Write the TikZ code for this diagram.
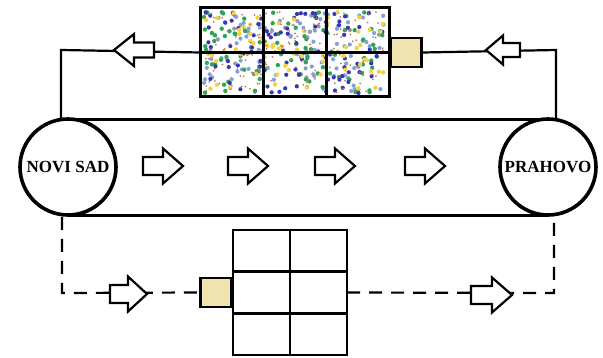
\documentclass[tikz,border=0pt]{standalone}
\usepackage{fontspec}
\setmainfont{Liberation Serif}
\usetikzlibrary{calc}
\definecolor{boxyellow}{RGB}{239,228,176}
\definecolor{dotblue}{RGB}{55,55,175}
\definecolor{dotgreen}{RGB}{45,165,85}
\definecolor{dotyellow}{RGB}{242,210,70}
\definecolor{dotlight}{RGB}{135,160,212}
\definecolor{dotbrown}{RGB}{185,120,100}
\tikzset{
  conn/.style={line width=2.2pt},
  dconn/.style={line width=2.2pt, dash pattern=on 13pt off 9pt},
  arrline/.style={line width=2.2pt, line join=miter, fill=white},
  panel/.style={outer sep=0pt, minimum width=189pt, minimum height=89pt, inner sep=0pt},
  gridline/.style={line width=2.6pt},
  lowgrid/.style={draw, line width=2.6pt, outer sep=0pt, fill=white, minimum width=114pt, minimum height=125pt, inner sep=0pt},
  ybox/.style={draw, line width=2.6pt, fill=boxyellow, minimum width=31pt, minimum height=29pt, inner sep=0pt},
  city/.style={circle, draw, line width=3.6pt, fill=white, minimum size=96pt, inner sep=0pt, font=\bfseries\fontsize{17}{20}\selectfont},
  pics/blockarr/.style n args={4}{code={
    \draw[arrline] (0,-#3) -- (#1-#2,-#3) -- (#1-#2,-#4) -- (#1,0) -- (#1-#2,#4) -- (#1-#2,#3) -- (0,#3) -- cycle;
  }}
}
\begin{document}
\begin{tikzpicture}[x=1pt,y=-1pt]
\useasboundingbox (0,0) rectangle (603,358);
% top panel with speckles
\node[panel] (toppanel) at (294.5,52.5) {};
\pgfmathsetseed{11}
\foreach \col/\n/\r in {dotlight/115/2.1, dotgreen/95/2.2, dotblue/90/2.1, dotyellow/65/2.2, dotbrown/150/1.0}{
  \foreach \i in {1,...,\n}{
    \pgfmathsetmacro\px{204+181*rnd}
    \pgfmathsetmacro\py{12+81*rnd}
    \fill[\col] (\px,\py) circle (\r);
  }
}
\draw[line width=3pt] (toppanel.north west) rectangle (toppanel.south east);
\draw[line width=3pt] ($(toppanel.north west)!1/3!(toppanel.north east)$) -- ($(toppanel.south west)!1/3!(toppanel.south east)$);
\draw[line width=3pt] ($(toppanel.north west)!2/3!(toppanel.north east)$) -- ($(toppanel.south west)!2/3!(toppanel.south east)$);
\draw[line width=3pt] (toppanel.west) -- (toppanel.east);
\node[ybox, anchor=west] (ybox1) at (toppanel.east) {};
% belt
\coordinate (nsc) at (68,167);
\coordinate (prc) at (548,167);
\draw[conn] (68,119.5) -- (548,119.5);
\draw[conn] (68,215.5) -- (548,215.5);
% top connectors
\coordinate (tl) at (61,50);
\coordinate (tr) at (556,50);
\draw[conn] (toppanel.west) -- (tl) -- (61,125);
\draw[conn] (ybox1.east) -- (tr) -- (556,125);
% cities
\node[city] (ns) at (nsc) {NOVI SAD};
\node[city] (pr) at (prc) {PRAHOVO};
% lower part
\node[lowgrid] (grid) at (290,292.5) {};
\draw[gridline] (grid.north) -- (grid.south);
\draw[gridline] ($(grid.north west)!1/3!(grid.south west)$) -- ($(grid.north east)!1/3!(grid.south east)$);
\draw[gridline] ($(grid.north west)!2/3!(grid.south west)$) -- ($(grid.north east)!2/3!(grid.south east)$);
\node[ybox, anchor=east] (ybox2) at (grid.west) {};
\coordinate (bl) at (62,293);
\coordinate (br) at (554,293);
\draw[dconn] (ns.south -| bl) -- (bl) -- (ybox2.west);
\draw[dconn] (grid.east) -- (br) -- (pr.south -| br);
% block arrows
\pic[xscale=-1] at (154,50) {blockarr={40}{20}{7.5}{16}};
\pic[xscale=-1] at (520,50) {blockarr={34}{17}{7}{14.5}};
\foreach \ax in {143,228,315,405}{
  \pic at (\ax,166) {blockarr={40}{20}{9}{17.5}};
}
\pic at (110,294) {blockarr={37}{19}{9}{17.5}};
\pic at (471,295) {blockarr={41}{20}{9}{17.5}};
\end{tikzpicture}
\end{document}
